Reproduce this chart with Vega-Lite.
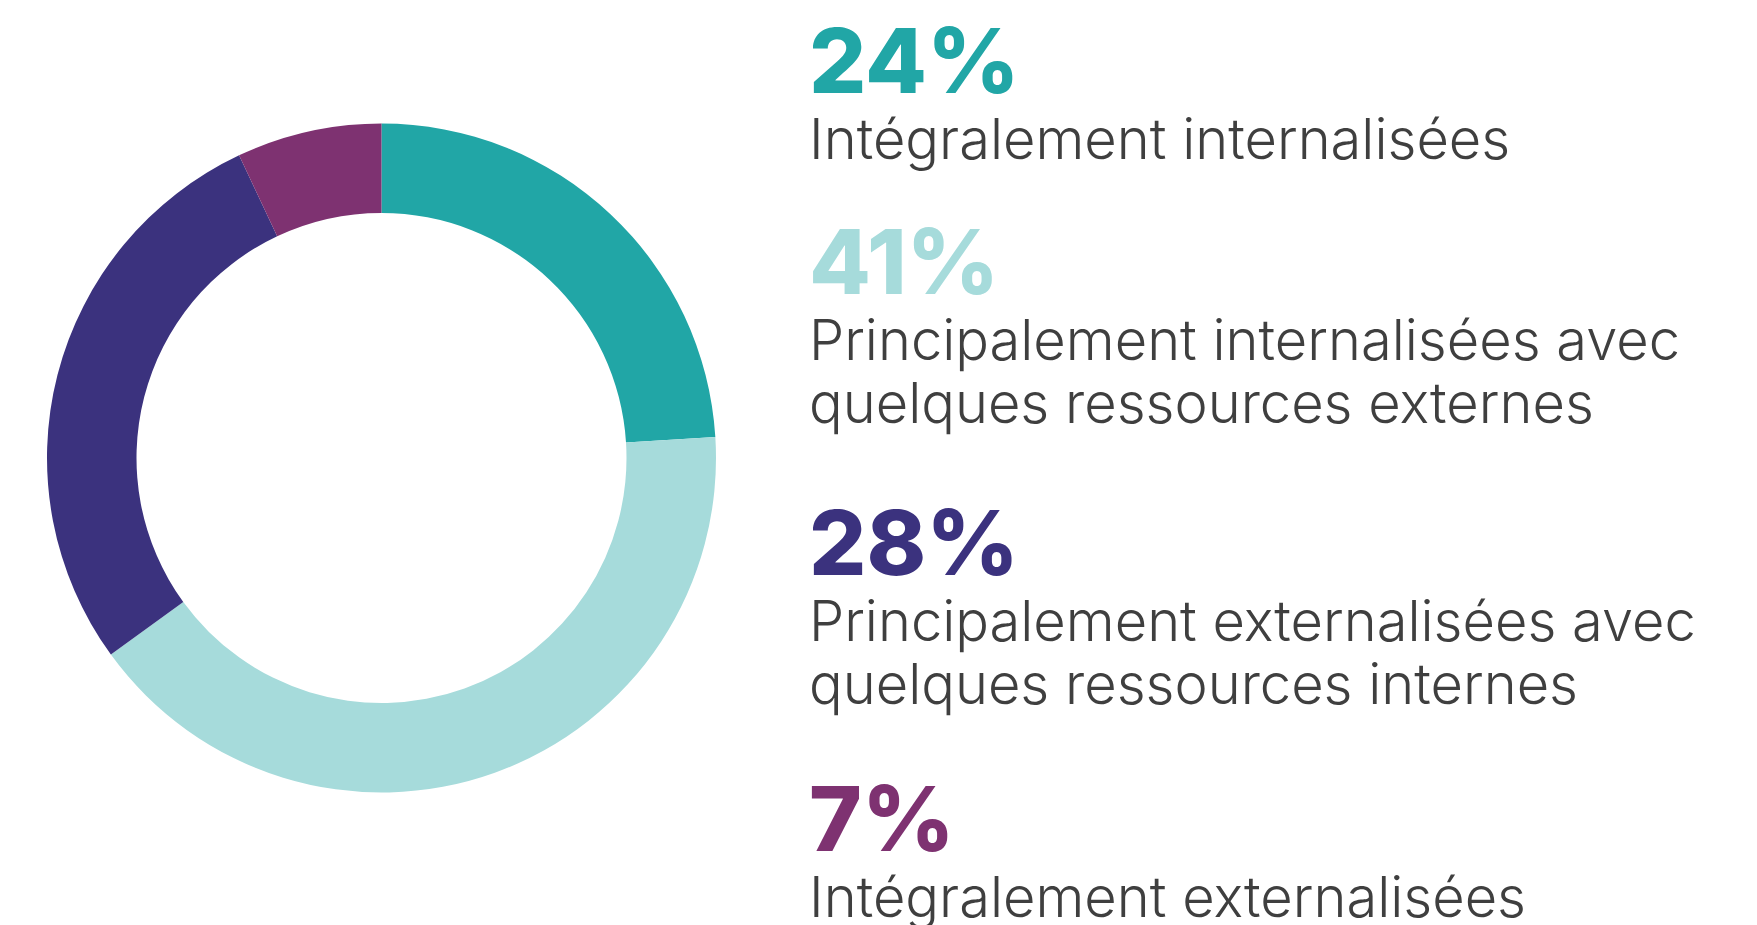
{
  "$schema": "https://vega.github.io/schema/vega-lite/v6.json",
  "padding": 0,
  "spacing": 46,
  "background": "white",
  "config": {"view": {"stroke": null}},
  "datasets": {
    "parts": [
      {"categorie": "Intégralement internalisées", "part": 0.24, "libelle": "Intégralement internalisées", "ligne": 0},
      {"categorie": "Principalement internalisées avec quelques ressources externes", "part": 0.41, "libelle": "Principalement internalisées avec\nquelques ressources externes", "ligne": 6.4},
      {"categorie": "Principalement externalisées avec quelques ressources internes", "part": 0.28, "libelle": "Principalement externalisées avec\nquelques ressources internes", "ligne": 15.3},
      {"categorie": "Intégralement externalisées", "part": 0.07, "libelle": "Intégralement externalisées", "ligne": 24.1}
    ]
  },
  "hconcat": [
    {
      "width": 763,
      "height": 916,
      "data": {"name": "parts"},
      "mark": {"type": "arc", "outerRadius": 334.5, "innerRadius": 245, "stroke": null},
      "encoding": {
        "theta": {"field": "part", "type": "quantitative", "stack": true},
        "order": {"field": "ligne", "type": "quantitative"},
        "color": {
          "field": "categorie",
          "type": "nominal",
          "sort": null,
          "legend": null,
          "scale": {
            "domain": ["Intégralement internalisées", "Principalement internalisées avec quelques ressources externes", "Principalement externalisées avec quelques ressources internes", "Intégralement externalisées"],
            "range": ["#21A6A6", "#A6DBDB", "#3B327E", "#7E3271"]
          }
        }
      }
    },
    {
      "width": 948,
      "height": 925,
      "data": {"name": "parts"},
      "encoding": {
        "x": {"datum": 0, "type": "quantitative", "scale": {"domain": [0, 1]}, "axis": null},
        "y": {"field": "ligne", "type": "quantitative", "axis": null, "scale": {"domain": [-2.96, 26.44], "reverse": true, "zero": false, "nice": false}}
      },
      "layer": [
        {
          "mark": {"type": "text", "align": "left", "baseline": "alphabetic", "font": "Inter", "fontWeight": 800, "fontSize": 90},
          "encoding": {
            "text": {"field": "part", "type": "quantitative", "format": ".0%"},
            "color": {
              "field": "categorie",
              "type": "nominal",
              "legend": null,
              "scale": {
                "domain": ["Intégralement internalisées", "Principalement internalisées avec quelques ressources externes", "Principalement externalisées avec quelques ressources internes", "Intégralement externalisées"],
                "range": ["#21A6A6", "#A6DBDB", "#3B327E", "#7E3271"]
              }
            }
          }
        },
        {
          "mark": {"type": "text", "align": "left", "baseline": "alphabetic", "font": "Inter", "fontWeight": 300, "fontSize": 56, "dy": 66, "lineHeight": 63, "lineBreak": "\n", "color": "#3F3F3F"},
          "encoding": {
            "text": {"field": "libelle", "type": "nominal"}
          }
        }
      ]
    }
  ]
}
